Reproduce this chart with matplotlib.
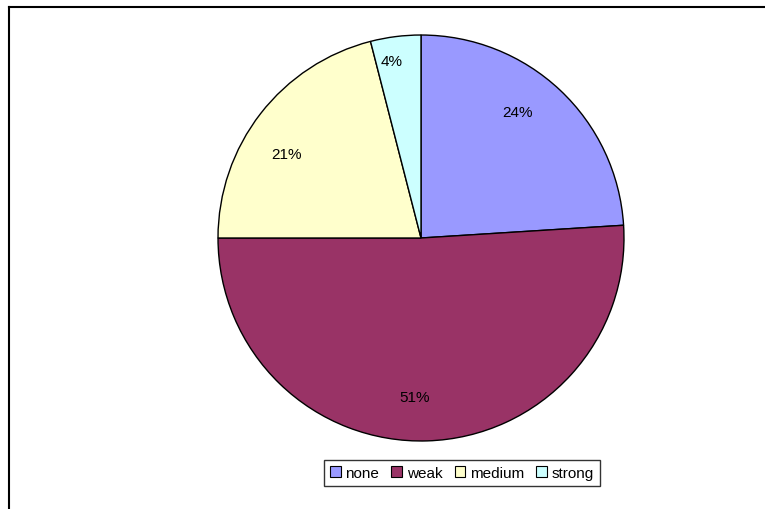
import matplotlib
matplotlib.use("Agg")
import matplotlib.pyplot as plt
from matplotlib.lines import Line2D
from matplotlib.patches import Patch

categories = ["none", "weak", "medium", "strong"]
shares = [24, 51, 21, 4]
colors = ["#9999FF", "#993366", "#FFFFCC", "#CCFFFF"]

plt.rcParams["font.family"] = ["Liberation Sans", "DejaVu Sans"]

W, H = 765, 510
fig = plt.figure(figsize=(W / 100, H / 100), dpi=100)
fig.patch.set_facecolor("white")

# pie placed in pixel terms: centre and radius
cx, cy, r = 421, 239, 204
ax = fig.add_axes([(cx - r) / W, (H - cy - r) / H, 2 * r / W, 2 * r / H])
wedges, texts, pcts = ax.pie(
    shares,
    colors=colors,
    startangle=90,
    counterclock=False,
    autopct="%d%%",
    pctdistance=0.77,
    radius=1.0,
    wedgeprops=dict(edgecolor="black", linewidth=1.0),
    textprops=dict(fontsize=11, color="black"),
)
# nudge the percentage labels to their best-fit spots inside each slice
label_spots = [(0.473, 0.621), (-0.034, -0.783), (-0.665, 0.414), (-0.143, 0.872)]
for t, (x, y) in zip(pcts, label_spots):
    t.set_position((x, y))

ax.set_xlim(-1.005, 1.005)
ax.set_ylim(-1.005, 1.005)
ax.set_aspect("equal")
ax.axis("off")

# chart-area border (top and left edges)
fig.add_artist(Line2D([9 / W, 1.0], [1 - 8 / H, 1 - 8 / H], color="black", lw=1.5,
                      transform=fig.transFigure))
fig.add_artist(Line2D([9 / W, 9 / W], [0.0, 1 - 8 / H], color="black", lw=1.5,
                      transform=fig.transFigure))

handles = [Patch(facecolor=c, edgecolor="black", linewidth=0.8) for c in colors]
leg = fig.legend(
    handles, categories,
    loc="center", bbox_to_anchor=(462 / W, 1 - 474 / H),
    ncol=4, frameon=True, fancybox=False, fontsize=11,
    handlelength=0.7, handleheight=0.7, handletextpad=0.3,
    columnspacing=0.8, borderpad=0.4, borderaxespad=0,
)
leg.get_frame().set_edgecolor("black")
leg.get_frame().set_linewidth(1.0)

fig.savefig("out.png", dpi=100, facecolor="white")
